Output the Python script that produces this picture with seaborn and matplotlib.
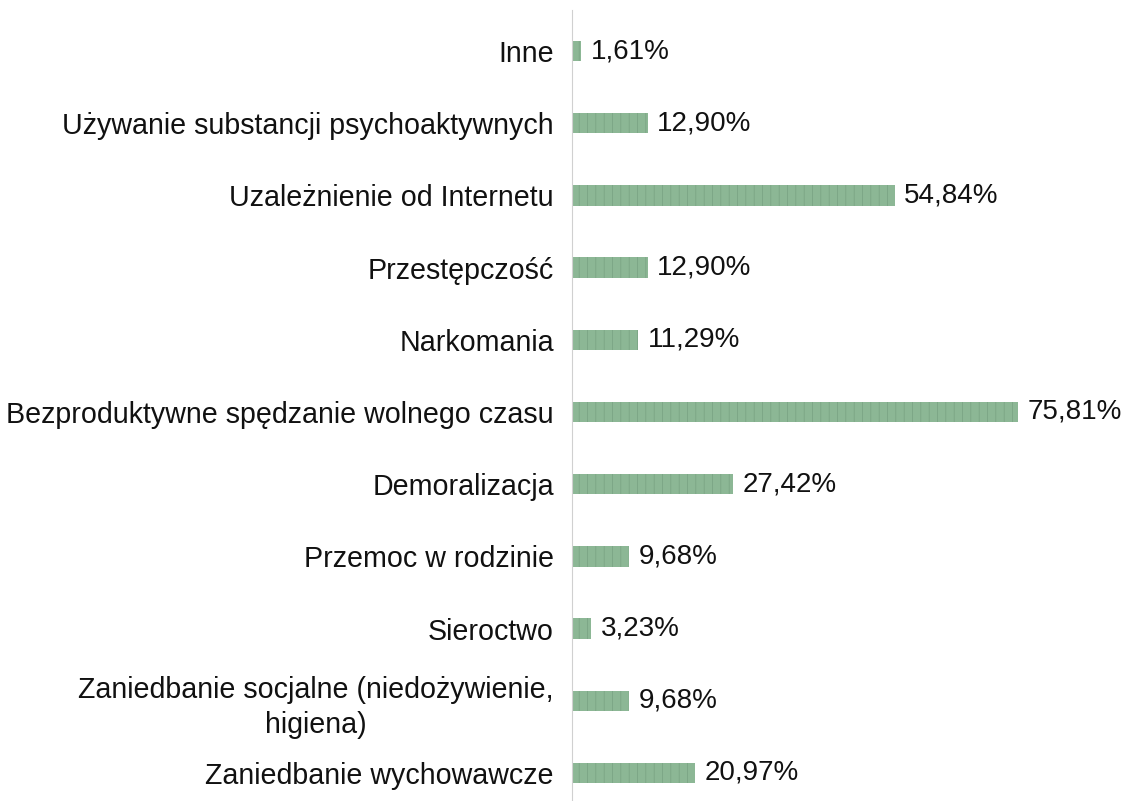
import matplotlib
matplotlib.use("Agg")
import matplotlib.pyplot as plt
import seaborn as sns
import pandas as pd

categories = [
    "Inne",
    "Używanie substancji psychoaktywnych",
    "Uzależnienie od Internetu",
    "Przestępczość",
    "Narkomania",
    "Bezproduktywne spędzanie wolnego czasu",
    "Demoralizacja",
    "Przemoc w rodzinie",
    "Sieroctwo",
    "Zaniedbanie socjalne (niedożywienie,\nhigiena)",
    "Zaniedbanie wychowawcze",
]
values = [1.61, 12.90, 54.84, 12.90, 11.29, 75.81, 27.42, 9.68, 3.23, 9.68, 20.97]
value_labels = ["1,61%", "12,90%", "54,84%", "12,90%", "11,29%", "75,81%",
                "27,42%", "9,68%", "3,23%", "9,68%", "20,97%"]

sns.set_theme(style="white")
plt.rcParams['font.family'] = ['Liberation Sans', 'DejaVu Sans']
plt.rcParams['hatch.linewidth'] = 0.5

df = pd.DataFrame({"cat": categories, "val": values})

fig = plt.figure(figsize=(11.28, 8.01), dpi=100)
ax = fig.add_axes([572/1128, 0.0, (1125-572)/1128, 791/801])

sns.barplot(data=df, y="cat", x="val", order=categories, orient="h",
            color="#8cb795", width=0.28, ax=ax, saturation=1)
for p in ax.patches:
    p.set_hatch("||")
    p.set_edgecolor("#77a181")
    p.set_linewidth(0)

for i, (v, lab) in enumerate(zip(values, value_labels)):
    ax.text(v + 1.6, i, lab, va="center", ha="left", fontsize=20, color="#111111")

ax.set_xlim(0, 94)
ax.set_ylim(10.388, -0.568)
ax.set_xlabel("")
ax.set_ylabel("")
ax.set_xticks([])
ax.tick_params(axis="y", length=0, pad=13, labelsize=20.6, labelcolor="#111111")
for lbl in ax.get_yticklabels():
    lbl.set_multialignment("center")
    lbl.set_linespacing(1.35)
for s in ["top", "right", "bottom"]:
    ax.spines[s].set_visible(False)
ax.spines["left"].set_color("#d0d0d0")
ax.spines["left"].set_linewidth(0.8)

fig.savefig("out.png", dpi=100)
